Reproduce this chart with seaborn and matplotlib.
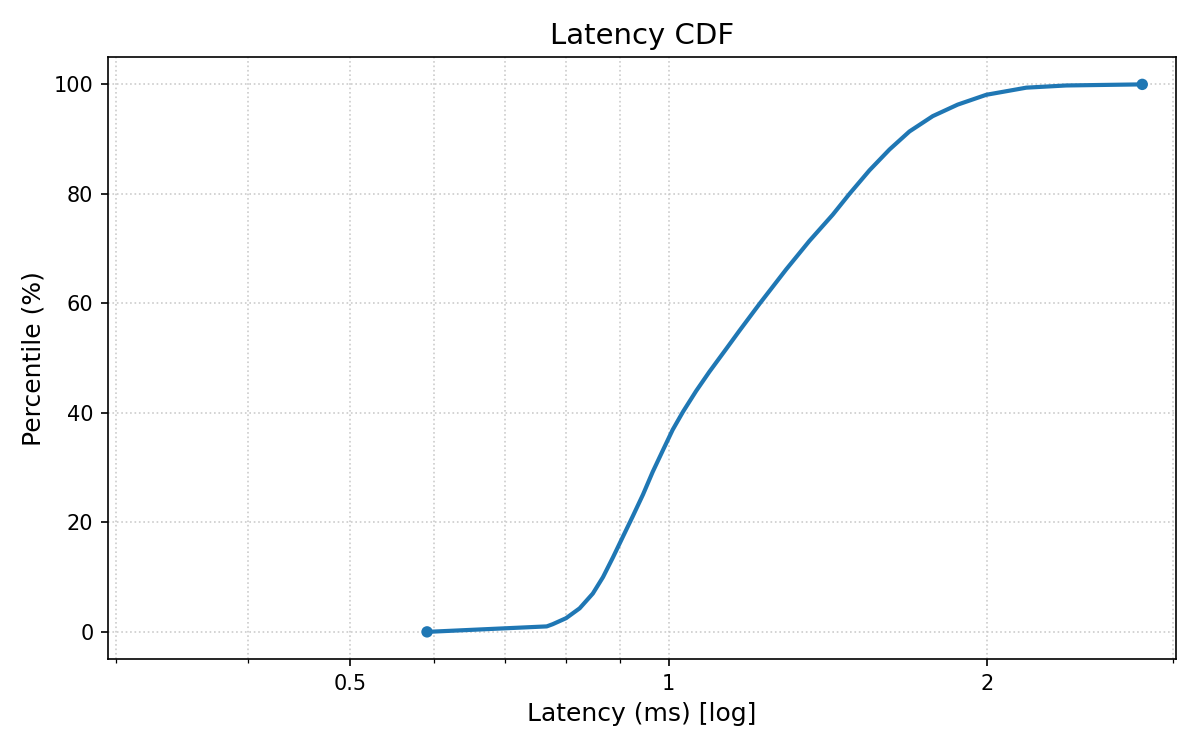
import matplotlib
matplotlib.use("Agg")
import matplotlib.pyplot as plt
import matplotlib.ticker as mticker
import seaborn as sns
import pandas as pd

# latency (ms) at each percentile
latency_ms = [0.591, 0.767, 0.777, 0.800, 0.824, 0.848, 0.867, 0.886, 0.905,
              0.925, 0.946, 0.966, 0.988, 1.009, 1.032, 1.062, 1.093, 1.134,
              1.167, 1.219, 1.292, 1.359, 1.430, 1.483, 1.549, 1.618, 1.690,
              1.778, 1.877, 1.998, 2.18, 2.378, 2.806]
percentile = [0, 1.0, 1.4, 2.5, 4.3, 7.0, 10.0, 13.6, 17.3,
              21.1, 25.1, 29.2, 33.2, 36.9, 40.2, 44.0, 47.5, 51.7,
              55.0, 59.9, 66.2, 71.4, 76.2, 80.0, 84.3, 88.1, 91.4,
              94.2, 96.3, 98.1, 99.4, 99.8, 100]

major_ticks = [0.5, 1, 2]
minor_ticks = [0.3, 0.4, 0.6, 0.7, 0.8, 0.9, 3]

df = pd.DataFrame({"latency": latency_ms, "pct": percentile})
ends = df.iloc[[0, -1]]

fig, ax = plt.subplots(figsize=(8, 5), dpi=150)

sns.lineplot(data=df, x="latency", y="pct", estimator=None, sort=False,
             color="#1f77b4", linewidth=2, ax=ax)
sns.scatterplot(data=ends, x="latency", y="pct", color="#1f77b4", s=30,
                edgecolor="none", ax=ax, zorder=3)

ax.set_xscale("log")
ax.set_xlim(0.295, 3.02)
ax.set_ylim(-5, 105)
ax.xaxis.set_major_locator(mticker.FixedLocator(major_ticks))
ax.xaxis.set_major_formatter(mticker.FuncFormatter(lambda v, p: f"{v:g}"))
ax.xaxis.set_minor_locator(mticker.FixedLocator(minor_ticks))
ax.xaxis.set_minor_formatter(mticker.NullFormatter())

ax.grid(True, which="both", linestyle=":", color="#cccccc", linewidth=0.8)
ax.tick_params(axis="both", labelsize=10)

ax.set_title("Latency CDF", fontsize=14)
ax.set_xlabel("Latency (ms) [log]", fontsize=12)
ax.set_ylabel("Percentile (%)", fontsize=12)

plt.subplots_adjust(left=0.09, right=0.98, top=0.924, bottom=0.121)
plt.savefig("out.png", dpi=150)
